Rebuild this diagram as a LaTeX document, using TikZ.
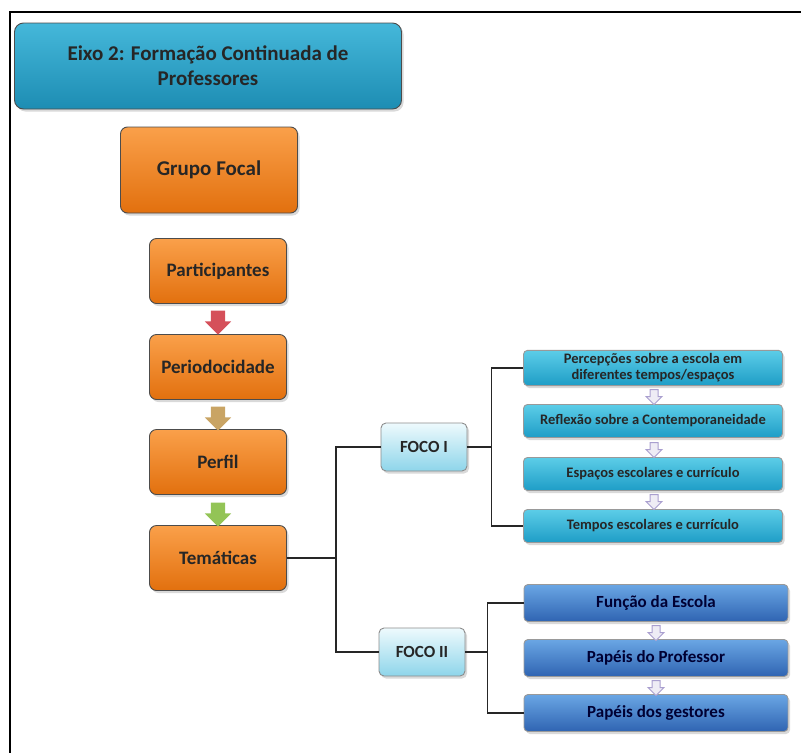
\documentclass[tikz,border=0pt]{standalone}
\usepackage{fontspec}
\setmainfont{Carlito}
\usetikzlibrary{shapes.arrows,shadows}

\definecolor{eixotop}{HTML}{45B8DA}
\definecolor{eixobot}{HTML}{1D8DB3}
\definecolor{orangetop}{HTML}{FAA04A}
\definecolor{orangebot}{HTML}{E2700E}
\definecolor{focotop}{HTML}{EEFAFD}
\definecolor{focobot}{HTML}{8ED5EA}
\definecolor{cyantop}{HTML}{5CCDE8}
\definecolor{cyanbot}{HTML}{1E9DC6}
\definecolor{bluetop}{HTML}{6AA6E4}
\definecolor{bluebot}{HTML}{2F64B2}
\definecolor{arrowred}{HTML}{D5505A}
\definecolor{arrowtan}{HTML}{C9A464}
\definecolor{arrowgreen}{HTML}{93C456}
\definecolor{arrowlav}{HTML}{A99FCF}

\tikzset{
    box/.style={draw=black!70, line width=0.9pt, align=center, text=black!85,
        drop shadow={opacity=0.3, shadow xshift=2pt, shadow yshift=-2.5pt}},
    eixobox/.style={box, rounded corners=9pt, top color=eixotop, bottom color=eixobot,
        minimum width=387pt, minimum height=86pt,
        font=\bfseries\fontsize{21}{25}\selectfont},
    stepbox/.style={box, rounded corners=7pt, top color=orangetop, bottom color=orangebot,
        minimum width=137pt, minimum height=65pt, font=\bfseries\fontsize{19}{22}\selectfont},
    focobox/.style={box, draw=black!45, rounded corners=5pt, top color=focotop, bottom color=focobot,
        minimum width=86pt, minimum height=48pt, font=\bfseries\fontsize{17}{20}\selectfont},
    itemone/.style={box, draw=black!40, rounded corners=4pt, top color=cyantop, bottom color=cyanbot,
        minimum width=259pt, minimum height=33pt,
        font=\bfseries\fontsize{14.5}{16}\selectfont},
    itemtwo/.style={box, draw=black!40, rounded corners=4pt, top color=bluetop, bottom color=bluebot,
        minimum width=264pt, minimum height=37pt, text=black!80!blue,
        font=\bfseries\fontsize{17}{20}\selectfont},
    bigarrow/.style={single arrow, shape border rotate=270, inner sep=7pt,
        single arrow head extend=6pt, minimum height=24pt, draw=none},
    smallarrow/.style={single arrow, shape border rotate=270, inner sep=3.5pt,
        single arrow head extend=4pt, minimum height=15pt, draw=arrowlav,
        fill=white!80!arrowlav, line width=1pt},
    link/.style={draw=black!85, line width=1.2pt}
}

\begin{document}
\begin{tikzpicture}[x=1pt,y=-1pt]
    \useasboundingbox (0,0) rectangle (801,753);

    % frame
    \draw[line width=2pt] (801,12) -- (10,12) -- (10,753);

    % title and focal group
    \node[eixobox] (eixo) at (208,66) {Eixo 2: Formação Continuada de\\Professores};
    \node[stepbox, minimum width=177pt, minimum height=86pt, font=\bfseries\fontsize{21}{24}\selectfont]
        (grupo) at (209,170) {Grupo Focal};

    % steps
    \node[stepbox] (part) at (218,271) {Participantes};
    \node[stepbox] (peri) at (218,367) {Periodocidade};
    \node[stepbox] (perf) at (218,462) {Perfil};
    \node[stepbox] (tema) at (218,558) {Temáticas};

    % block arrows between steps
    \node[bigarrow, fill=arrowred] (ar1) at (218,319) {};
    \node[bigarrow, fill=arrowtan] (ar2) at (218,415) {};
    \node[bigarrow, fill=arrowgreen] (ar3) at (218,511) {};

    % the two foci
    \node[focobox] (foco1) at (424,447) {FOCO I};
    \node[focobox] (foco2) at (422,652) {FOCO II};

    % topics of FOCO I
    \node[itemone] (perc) at (653,368) {Percepções sobre a escola em\\diferentes tempos/espaços};
    \node[itemone] (refl) at (653,421) {Reflexão sobre a Contemporaneidade};
    \node[itemone] (espa) at (653,474) {Espaços escolares e currículo};
    \node[itemone] (temp) at (653,526) {Tempos escolares e currículo};

    % topics of FOCO II
    \node[itemtwo] (func) at (656,603) {Função da Escola};
    \node[itemtwo] (ppro) at (656,658) {Papéis do Professor};
    \node[itemtwo] (pges) at (656,713) {Papéis dos gestores};

    % small arrows between topics
    \node[smallarrow] (s1) at (654,395) {};
    \node[smallarrow] (s2) at (654,448) {};
    \node[smallarrow] (s3) at (654,500) {};
    \node[smallarrow] (s4) at (656,631) {};
    \node[smallarrow] (s5) at (656,686) {};

    % connectors
    \coordinate (j1) at (336,558);
    \draw[link] (tema.east) -- (j1);
    \draw[link] (foco1.west) -| (j1) |- (foco2.west);

    \draw[link] (foco1.east) -- ++(24,0) coordinate (j2);
    \draw[link] (perc.west) -| (j2) |- (temp.west);

    \draw[link] (foco2.east) -- ++(22,0) coordinate (j3);
    \draw[link] (func.west) -| (j3) |- (pges.west);
\end{tikzpicture}
\end{document}
